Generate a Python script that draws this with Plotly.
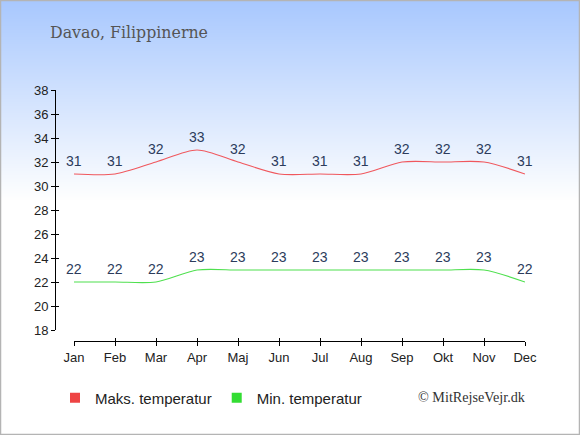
import base64, struct, zlib
import plotly.graph_objects as go

months = ["Jan", "Feb", "Mar", "Apr", "Maj", "Jun", "Jul", "Aug", "Sep", "Okt", "Nov", "Dec"]
max_temp = [31, 31, 32, 33, 32, 31, 31, 31, 32, 32, 32, 31]
min_temp = [22, 22, 22, 23, 23, 23, 23, 23, 23, 23, 23, 22]
y_ticks = list(range(18, 39, 2))
title_text = "Davao, Filippinerne"
credit_text = "© MitRejseVejr.dk"
max_name = "Maks. temperatur"
min_name = "Min. temperatur"

W, H = 580, 435
ML, MR, MT, MB = 55, 35, 90, 94
PW, PH = W - ML - MR, H - MT - MB


def gradient_png():
    w, h = 4, H
    rows = b""
    for y in range(h):
        t = min(y / 200.0, 1.0)
        r = int(168 + (255 - 168) * t)
        g = int(200 + (255 - 200) * t)
        b = int(254 + (255 - 254) * t)
        rows += b"\x00" + bytes([r, g, b]) * w

    def chunk(tag, data):
        c = struct.pack(">I", len(data)) + tag + data
        return c + struct.pack(">I", zlib.crc32(tag + data) & 0xffffffff)

    png = b"\x89PNG\r\n\x1a\n"
    png += chunk(b"IHDR", struct.pack(">IIBBBBB", w, h, 8, 2, 0, 0, 0))
    png += chunk(b"IDAT", zlib.compress(rows))
    png += chunk(b"IEND", b"")
    return "data:image/png;base64," + base64.b64encode(png).decode()


def px_x(p):
    return (p - ML) / PW


def px_y(p):
    return (H - MB - p) / PH


red = "#f0575d"
green = "#4fe04f"
label_col = "#2c3c5c"

fig = go.Figure()
fig.add_trace(go.Scatter(x=list(range(12)), y=max_temp, mode="lines",
                         line=dict(color=red, width=1.1, shape="spline", smoothing=0.8),
                         showlegend=False, hoverinfo="skip"))
fig.add_trace(go.Scatter(x=list(range(12)), y=min_temp, mode="lines",
                         line=dict(color=green, width=1.1, shape="spline", smoothing=0.8),
                         showlegend=False, hoverinfo="skip"))
fig.add_trace(go.Scatter(x=[None], y=[None], mode="markers", name=max_name,
                         marker=dict(symbol="square", size=10, color="#ee4444")))
fig.add_trace(go.Scatter(x=[None], y=[None], mode="markers", name=min_name,
                         marker=dict(symbol="square", size=10, color="#33dd33")))

annotations = []
for i, v in enumerate(max_temp):
    annotations.append(dict(x=i, y=v, xref="x", yref="y", text=str(v), showarrow=False,
                            yshift=13, font=dict(size=14, color=label_col, family="Liberation Sans")))
for i, v in enumerate(min_temp):
    annotations.append(dict(x=i, y=v, xref="x", yref="y", text=str(v), showarrow=False,
                            yshift=13, font=dict(size=14, color=label_col, family="Liberation Sans")))
annotations.append(dict(x=px_x(48), y=px_y(33), xref="paper", yref="paper", text=title_text,
                        showarrow=False, xanchor="left", yanchor="middle",
                        font=dict(size=15.8, color="#555555", family="DejaVu Serif")))
annotations.append(dict(x=px_x(528), y=px_y(397), xref="paper", yref="paper", text=credit_text,
                        showarrow=False, xanchor="right", yanchor="middle",
                        font=dict(size=14.2, color="#333333", family="Liberation Serif")))

ydom = [px_y(330), 1]
xdom = [px_x(74), px_x(525)]

fig.update_layout(
    width=W, height=H,
    margin=dict(l=ML, r=MR, t=MT, b=MB),
    paper_bgcolor="white", plot_bgcolor="rgba(0,0,0,0)",
    font=dict(family="Liberation Sans", color="#222222"),
    showlegend=True,
    legend=dict(orientation="h", x=px_x(55), y=px_y(398), xanchor="left", yanchor="middle",
                font=dict(size=15, color="#222222"), bgcolor="rgba(0,0,0,0)",
                itemwidth=30, traceorder="normal"),
    xaxis=dict(range=[0, 11], domain=xdom, anchor="free", position=0,
               tickvals=list(range(12)), ticktext=months,
               showline=True, linecolor="black", linewidth=1,
               ticks="outside", ticklen=4, tickcolor="black", showgrid=False, zeroline=False,
               tickfont=dict(size=13, color="#222222")),
    xaxis2=dict(range=[0, 11], domain=xdom, anchor="free", position=0, overlaying="x",
                tickvals=list(range(12)), showticklabels=False, showline=False,
                ticks="inside", ticklen=3, tickcolor="black", showgrid=False, zeroline=False),
    yaxis=dict(range=[18, 38], domain=ydom, anchor="free", position=0,
               tickvals=y_ticks, showline=True, linecolor="black", linewidth=1,
               ticks="outside", ticklen=4, tickcolor="black", showgrid=False, zeroline=False,
               tickfont=dict(size=13, color="#222222")),
    yaxis2=dict(range=[18, 38], domain=ydom, anchor="free", position=0, overlaying="y",
                tickvals=y_ticks, showticklabels=False, showline=False,
                ticks="inside", ticklen=3, tickcolor="black", showgrid=False, zeroline=False),
    annotations=annotations,
    images=[dict(source=gradient_png(), xref="paper", yref="paper",
                 x=px_x(0), y=px_y(0), sizex=W / PW, sizey=H / PH,
                 xanchor="left", yanchor="top", sizing="stretch", layer="below")],
    shapes=[dict(type="rect", xref="paper", yref="paper",
                 x0=px_x(0.5), x1=px_x(W - 0.5), y0=px_y(H - 0.5), y1=px_y(0.5),
                 line=dict(color="#b4b4b4", width=1.5), fillcolor="rgba(0,0,0,0)")],
)
# dummy trace to activate overlay axes
fig.add_trace(go.Scatter(x=[None], y=[None], xaxis="x2", yaxis="y2", showlegend=False, hoverinfo="skip"))

fig.write_html("out.html",
               config={"displayModeBar": False, "staticPlot": True},
               post_script="document.body.style.margin='0';document.body.style.padding='0';")
